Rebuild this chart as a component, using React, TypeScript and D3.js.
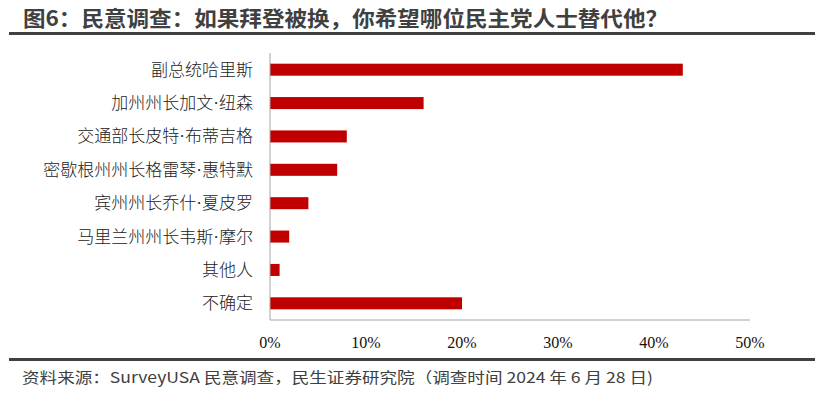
import * as d3 from 'd3';

// survey results, % of respondents
const names = [
	'副总统哈里斯',
	'加州州长加文·纽森',
	'交通部长皮特·布蒂吉格',
	'密歇根州州长格雷琴·惠特默',
	'宾州州长乔什·夏皮罗',
	'马里兰州州长韦斯·摩尔',
	'其他人',
	'不确定',
]
const shares = [43, 16, 8, 7, 4, 2, 1, 20]
const ticks = [0, 10, 20, 30, 40, 50]

const title = '图6：民意调查：如果拜登被换，你希望哪位民主党人士替代他？'
const source = '资料来源：SurveyUSA 民意调查，民生证券研究院（调查时间 2024 年 6 月 28 日)'

const W = 823
const H = 397
const left = 270
const right = 750
const top = 53
const bottom = 320

// narrow middle dot like the original (western font for the dot only)
function label(n: string) {
	const parts = n.split('·')
	if (parts.length < 2) return n
	return [
		<tspan key="a">{parts[0]}</tspan>,
		<tspan key="d" fontFamily="'Liberation Serif'">·</tspan>,
		<tspan key="b">{parts[1]}</tspan>,
	]
}

export default function App() {
	const x = d3.scaleLinear().domain([0, 50]).range([left, right])
	const y = d3.scaleBand<string>().domain(names).range([top, bottom]).paddingInner(0.64).paddingOuter(0.32)

	return (
		<svg width={W} height={H} style={{ position: 'absolute', left: 0, top: 0, background: '#fff' }}>
			{/* header */}
			<text x={23} y={26} fontFamily="'Noto Sans CJK SC'" fontWeight={700} fontSize={21} fill="#404040"
				textLength={645} lengthAdjust="spacingAndGlyphs">{title}</text>
			<rect x={9} y={32} width={806} height={3} fill="#404040" />

			{/* bars */}
			{names.map((n, i) => (
				<g key={n}>
					<rect x={x(0)} y={y(n)} width={x(shares[i]) - x(0)} height={y.bandwidth()} fill="#c00000" />
					<text x={253} y={(y(n) || 0) + y.bandwidth() / 2} dy="0.35em" textAnchor="end"
						fontFamily="'Noto Sans CJK SC'" fontWeight={300} fontSize={17} fill="#222">{label(n)}</text>
				</g>
			))}

			{/* axes */}
			<line x1={left} x2={left} y1={top} y2={bottom} stroke="#a6a6a6" strokeWidth={1} />
			<line x1={left} x2={right} y1={bottom} y2={bottom} stroke="#a6a6a6" strokeWidth={1} />
			{ticks.map(t => (
				<text key={t} x={x(t)} y={342} dy="0.35em" textAnchor="middle"
					fontFamily="'Liberation Serif'" fontSize={16} fill="#111">{t}%</text>
			))}

			{/* footer */}
			<rect x={9} y={358} width={806} height={3} fill="#404040" />
			<text x={22} y={383} fontFamily="'Noto Sans CJK SC'" fontSize={15} fill="#404040"
				textLength={631} lengthAdjust="spacingAndGlyphs">{source}</text>
		</svg>
	)
}
